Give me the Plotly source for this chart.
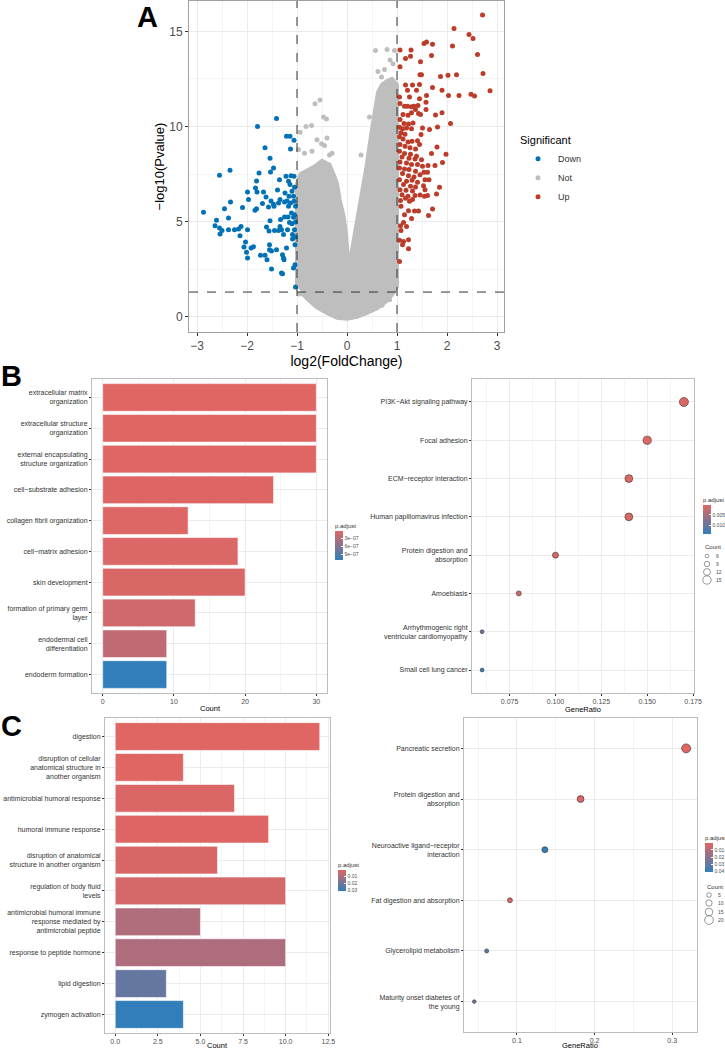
import math
import plotly.graph_objects as go

# -----------------------
# Panel A: volcano data
# -----------------------
down_x = [-2.87, -2.61, -2.64, -2.55, -2.54, -2.50, -2.55, -2.34, -2.45, -2.37, -2.33, -2.37, -2.25,
          -2.17, -2.14, -2.12, -2.09, -2.03, -2.06, -1.99, -1.99, -1.97, -2.01, -1.99, -1.92, -1.87,
          -1.83, -1.84, -1.81, -1.79, -1.81, -1.76, -1.80, -1.73, -1.69, -1.67, -1.64, -1.64, -1.62,
          -1.61, -1.60, -1.57, -1.56, -1.55, -1.55, -1.54, -1.54, -1.53, -1.52, -1.51, -1.51, -1.47,
          -1.47, -1.46, -1.45, -1.41, -1.41, -1.39, -1.37, -1.37, -1.35, -1.34, -1.34, -1.33, -1.31,
          -1.31, -1.29, -1.29, -1.27, -1.27, -1.26, -1.25, -1.25, -1.24, -1.22, -1.21, -1.21, -1.20,
          -1.19, -1.18, -1.17, -1.17, -1.16, -1.15, -1.14, -1.14, -1.13, -1.13, -1.12, -1.11, -1.10,
          -1.10, -1.09, -1.09, -1.07, -1.07, -1.07, -1.06, -1.06, -1.06, -1.05, -1.05, -1.05, -1.04,
          -1.04, -1.03, -1.03, -1.03, -1.03]
down_y = [5.49, 5.07, 4.79, 4.67, 4.35, 4.53, 7.44, 7.70, 5.68, 5.19, 6.04, 4.58, 4.58,
          4.61, 4.26, 4.75, 5.75, 3.93, 3.67, 4.58, 6.56, 6.16, 3.39, 3.09, 3.61, 3.68,
          6.77, 5.60, 5.68, 10.0, 7.14, 7.56, 6.56, 3.23, 5.96, 6.56, 3.23, 8.88, 6.30,
          4.72, 3.00, 5.77, 4.51, 3.79, 3.53, 8.33, 5.05, 7.61, 6.09, 2.51, 3.46, 7.82,
          5.91, 5.81, 4.53, 10.42, 3.53, 6.67, 5.98, 4.54, 7.21, 6.16, 4.75, 5.11, 4.58,
          2.30, 3.26, 2.26, 3.09, 4.32, 3.00, 5.25, 6.04, 6.51, 7.39, 9.49, 3.61, 6.09,
          4.58, 5.25, 7.12, 5.81, 6.33, 4.96, 9.49, 6.95, 8.82, 5.98, 7.42, 5.46, 6.60,
          4.89, 4.32, 4.09, 6.33, 5.23, 2.56, 9.28, 7.39, 6.07, 6.81, 5.37, 4.58, 3.79,
          2.74, 1.56, 5.81, 4.98, 4.19]

up_x = [2.71, 2.14, 2.44, 2.52, 2.61, 2.72, 2.86, 2.48, 2.55, 2.24, 2.03, 2.11, 1.59, 1.54, 1.71,
        1.69, 2.19, 2.02, 1.87, 1.90, 1.71, 2.07, 1.90, 1.77, 1.81, 1.80, 1.98, 1.91, 1.76, 1.69,
        1.85, 1.79, 1.71, 1.63, 1.65, 1.58, 1.58, 1.59, 1.46, 1.49, 1.47, 1.45, 1.31, 1.28, 1.27,
        1.17, 1.06, 1.06, 1.17, 1.21, 1.39, 1.25, 1.45, 1.05, 1.06, 1.15, 1.21, 1.29, 1.34, 1.42,
        1.37, 1.43, 1.47, 1.22, 1.29, 1.12, 1.06, 1.14, 1.23, 1.32, 1.05, 1.11, 1.19, 1.29, 1.51,
        1.48, 1.08, 1.16, 1.05, 1.12, 1.22, 1.30, 1.41, 1.45, 1.06, 1.16, 1.26, 1.37, 1.05, 1.15,
        1.27, 1.39, 1.10, 1.24, 1.36, 1.49, 1.06, 1.19, 1.29, 1.41, 1.62, 1.05, 1.15, 1.24, 1.37,
        1.51, 1.11, 1.23, 1.34, 1.46, 1.54, 1.61, 1.05, 1.19, 1.30, 1.41, 1.56, 1.64, 1.13, 1.27,
        1.37, 1.53, 1.06, 1.18, 1.31, 1.46, 1.56, 1.10, 1.22, 1.36, 1.61, 1.07, 1.17, 1.25, 1.31,
        1.55, 1.08, 1.23, 1.35, 1.43, 1.15, 1.29, 1.13, 1.07, 1.19, 1.08, 1.05, 1.13, 1.23, 1.11,
        1.23, 1.05]
up_y = [15.86, 15.16, 14.84, 14.63, 13.79, 12.79, 11.88, 11.70, 11.60, 11.63, 11.63, 14.23, 14.44,
        14.37, 14.33, 13.74, 12.72, 12.70, 12.63, 11.91, 12.05, 10.16, 10.72, 10.61, 9.98, 8.93,
        8.54, 8.11, 7.95, 8.58, 6.81, 6.46, 5.67, 5.32, 9.84, 10.89, 11.28, 11.63, 12.72, 12.72,
        13.40, 12.21, 12.19, 14.02, 13.70, 13.58, 14.02, 13.14, 12.19, 11.91, 11.91, 11.56, 11.46,
        11.56, 11.21, 11.07, 11.07, 11.04, 11.07, 11.11, 10.89, 10.68, 10.63, 10.60, 10.72, 10.63,
        10.37, 10.16, 10.14, 10.19, 9.96, 9.88, 9.93, 9.88, 9.93, 9.58, 9.67, 9.60, 9.46, 9.35,
        9.19, 9.23, 9.25, 9.05, 9.05, 8.96, 8.88, 8.82, 8.70, 8.58, 8.54, 8.44, 8.40, 8.33, 8.30,
        8.26, 8.14, 8.09, 8.00, 8.00, 7.95, 7.82, 7.77, 7.74, 7.65, 7.91, 7.53, 7.42, 7.35, 7.47,
        7.60, 7.60, 7.21, 7.12, 7.18, 7.07, 7.21, 7.21, 6.95, 6.86, 6.82, 6.89, 6.68, 6.65, 6.61,
        6.40, 6.68, 6.42, 6.33, 6.37, 6.37, 6.11, 6.23, 6.07, 6.16, 6.33, 5.81, 5.58, 5.56, 5.56,
        5.37, 5.16, 4.96, 4.79, 4.75, 4.53, 4.02, 3.96, 4.05, 3.79, 3.58, 2.91]

# outline of the dense grey cloud, and the loose grey points around it
cloud_x = [-1.0, -1.0, -0.93, -0.8, -0.65, -0.5, -0.35, -0.27, -0.2, -0.15, -0.07, -0.02, 0.03,
           0.1, 0.16, 0.26, 0.39, 0.49, 0.55, 0.62, 0.7, 0.8, 0.9, 1.0, 1.0, 0.9, 0.78, 0.6,
           0.4, 0.2, 0.0, -0.2, -0.4, -0.6, -0.78, -0.92]
cloud_y = [1.6, 7.0, 7.5, 7.7, 7.9, 8.2, 8.0, 7.5, 7.0, 6.2, 5.3, 4.4, 2.6,
           3.5, 4.4, 6.2, 7.9, 9.7, 10.8, 11.8, 12.2, 12.4, 12.5, 12.2, 1.6, 1.15, 0.8, 0.45,
           0.2, 0.0, -0.1, -0.05, 0.2, 0.5, 0.9, 1.3]
not_x = [-0.54, -0.64, -0.47, -0.41, -0.71, -0.82, -0.51, -0.45, -0.94, -0.97, -0.85, -0.70,
         -0.60, -0.35, -0.95, -0.67, -0.55, -0.30, -0.40, 0.57, 0.80, 0.86, 0.92, 0.95, 0.69,
         0.28, 0.85, 0.70, 0.45, 0.62, 0.75]
not_y = [11.4, 11.2, 10.5, 10.4, 10.05, 10.0, 9.1, 9.0, 9.7, 8.8, 8.6, 8.7,
         9.3, 8.5, 1.2, 0.75, 0.55, 8.6, 9.4, 14.0, 14.05, 13.5, 13.3, 14.0, 12.6,
         8.5, 0.9, 0.6, 10.5, 12.9, 13.0]

# -----------------------
# Panel B data
# -----------------------
b_go_terms = ["extracellular matrix<br>organization", "extracellular structure<br>organization",
              "external encapsulating<br>structure organization", "cell−substrate adhesion",
              "collagen fibril organization", "cell−matrix adhesion", "skin development",
              "formation of primary germ<br>layer", "endodermal cell<br>differentiation",
              "endoderm formation"]
b_go_count = [30, 30, 30, 24, 12, 19, 20, 13, 9, 9]
b_go_padj = [5e-9, 8e-9, 1.2e-8, 2.5e-8, 3e-8, 4e-8, 5e-8, 1.2e-7, 2.1e-7, 1.13e-6]

b_kegg_terms = ["PI3K−Akt signaling pathway", "Focal adhesion", "ECM−receptor interaction",
                "Human papillomavirus infection", "Protein digestion and<br>absorption", "Amoebiasis",
                "Arrhythmogenic right<br>ventricular cardiomyopathy", "Small cell lung cancer"]
b_kegg_ratio = [0.17, 0.15, 0.14, 0.14, 0.10, 0.08, 0.06, 0.06]
b_kegg_count = [17, 15, 14, 14, 10, 8, 6, 6]
b_kegg_padj = [0.0002, 0.0003, 0.0005, 0.0006, 0.0008, 0.0009, 0.0101, 0.0144]

# -----------------------
# Panel C data
# -----------------------
c_go_terms = ["digestion", "disruption of cellular<br>anatomical structure in<br>another organism",
              "antimicrobial humoral response", "humoral immune response",
              "disruption of anatomical<br>structure in another organism",
              "regulation of body fluid<br>levels",
              "antimicrobial humoral immune<br>response mediated by<br>antimicrobial peptide",
              "response to peptide hormone", "lipid digestion", "zymogen activation"]
c_go_count = [12, 4, 7, 9, 6, 10, 5, 10, 3, 4]
c_go_padj = [0.0005, 0.0006, 0.0016, 0.0010, 0.0020, 0.0025, 0.0090, 0.0095, 0.022, 0.031]

c_kegg_terms = ["Pancreatic secretion", "Protein digestion and<br>absorption",
                "Neuroactive ligand−receptor<br>interaction", "Fat digestion and absorption",
                "Glycerolipid metabolism", "Maturity onset diabetes of<br>the young"]
c_kegg_ratio = [0.318, 0.182, 0.136, 0.091, 0.061, 0.045]
c_kegg_count = [21, 12, 9, 6, 4, 3]
c_kegg_padj = [0.0004, 0.0008, 0.0405, 0.0015, 0.032, 0.028]

# -----------------------
# Styling
# -----------------------
W, H = 725, 1050
FONT = "Arial, Liberation Sans, sans-serif"
CS = [[0, "#327eba"], [1, "#e06663"]]   # blue = high p.adjust, red = low
GRID = "#EBEBEB"
BORDER = "#BDBDBD"


def dx(p0, p1):
    return [p0 / W, p1 / W]


def dy(p0, p1):
    return [1 - p1 / H, 1 - p0 / H]


def dot_size(c, cmin, cmax, dmin, dmax):
    return dmin + (math.sqrt(c) - math.sqrt(cmin)) / (math.sqrt(cmax) - math.sqrt(cmin)) * (dmax - dmin)


def colorbar(px, py, length, tickvals, ticktext):
    return dict(x=px / W, xanchor="left", y=1 - py / H, yanchor="middle",
                len=length, lenmode="pixels", thickness=8, outlinewidth=0,
                xpad=0, ypad=0, tickvals=[-v for v in tickvals], ticktext=ticktext,
                ticks="inside", ticklen=2, tickcolor="white",
                tickfont=dict(size=5, color="#4D4D4D", family=FONT),
                title=dict(text="p.adjust", side="top", font=dict(size=6, color="#333", family=FONT)))


fig = go.Figure()

# ---- A: volcano ----
fig.add_trace(go.Scatter(x=cloud_x, y=cloud_y, fill="toself", fillcolor="#BEBEBE", mode="lines",
                         line=dict(color="#BEBEBE", width=4), showlegend=False, hoverinfo="skip",
                         xaxis="x", yaxis="y"))
fig.add_trace(go.Scatter(x=down_x, y=down_y, mode="markers", name="Down", legendrank=1,
                         marker=dict(color="#0072B5", size=5, opacity=1), xaxis="x", yaxis="y"))
fig.add_trace(go.Scatter(x=not_x, y=not_y, mode="markers", name="Not", legendrank=2,
                         marker=dict(color="#BEBEBE", size=5, opacity=1), xaxis="x", yaxis="y"))
fig.add_trace(go.Scatter(x=up_x, y=up_y, mode="markers", name="Up", legendrank=3,
                         marker=dict(color="#BC3C29", size=5, opacity=1), xaxis="x", yaxis="y"))

for xv in (-1, 1):
    fig.add_shape(type="line", xref="x", yref="y domain", x0=xv, x1=xv, y0=0, y1=1,
                  line=dict(color="#333", width=1, dash="dash"))
fig.add_shape(type="line", xref="x domain", yref="y", x0=0, x1=1, y0=1.3, y1=1.3,
              line=dict(color="#333", width=1, dash="dash"))

# ---- B: GO bar ----
fig.add_trace(go.Bar(x=b_go_count, y=b_go_terms, orientation="h", width=0.9, showlegend=False,
                     marker=dict(color=[-p for p in b_go_padj], colorscale=CS,
                                 cmin=-max(b_go_padj), cmax=-min(b_go_padj),
                                 line=dict(color="white", width=0.6),
                                 colorbar=colorbar(335, 540, 40, [3e-7, 6e-7, 9e-7],
                                                   ["3e−07", "6e−07", "9e−07"])),
                     xaxis="x2", yaxis="y2"))

# ---- B: KEGG dots ----
fig.add_trace(go.Scatter(x=b_kegg_ratio, y=b_kegg_terms, mode="markers", showlegend=False,
                         marker=dict(size=[dot_size(c, 6, 17, 3.8, 9) for c in b_kegg_count],
                                     color=[-p for p in b_kegg_padj], colorscale=CS,
                                     cmin=-max(b_kegg_padj), cmax=-min(b_kegg_padj),
                                     line=dict(color="#333", width=0.6), opacity=1,
                                     colorbar=colorbar(703, 514, 40, [0.005, 0.010],
                                                       ["0.005", "0.010"])),
                         xaxis="x3", yaxis="y3"))

# ---- C: GO bar ----
fig.add_trace(go.Bar(x=c_go_count, y=c_go_terms, orientation="h", width=0.9, showlegend=False,
                     marker=dict(color=[-p for p in c_go_padj], colorscale=CS,
                                 cmin=-max(c_go_padj), cmax=-min(c_go_padj),
                                 line=dict(color="white", width=0.6),
                                 colorbar=colorbar(338, 875, 32, [0.01, 0.02, 0.03],
                                                   ["0.01", "0.02", "0.03"])),
                     xaxis="x4", yaxis="y4"))

# ---- C: KEGG dots ----
fig.add_trace(go.Scatter(x=c_kegg_ratio, y=c_kegg_terms, mode="markers", showlegend=False,
                         marker=dict(size=[dot_size(c, 3, 21, 3.6, 9) for c in c_kegg_count],
                                     color=[-p for p in c_kegg_padj], colorscale=CS,
                                     cmin=-max(c_kegg_padj), cmax=-min(c_kegg_padj),
                                     line=dict(color="#333", width=0.6), opacity=1,
                                     colorbar=colorbar(705, 852, 40, [0.01, 0.02, 0.03, 0.04],
                                                       ["0.01", "0.02", "0.03", "0.04"])),
                         xaxis="x5", yaxis="y5"))

# ---- Count size legends (drawn by hand, ggplot style) ----
annotations = []
size_legends = [
    (703, 547, [6, 9, 12, 15], [556, 564, 572, 580], (6, 17, 3.8, 9)),
    (705, 887, [5, 10, 15, 20], [895, 903, 912, 920], (3, 21, 3.6, 9)),
]
for tx, ty, vals, ys, rng in size_legends:
    annotations.append(dict(text="Count", x=tx / W, y=1 - ty / H, xref="paper", yref="paper",
                            xanchor="left", yanchor="middle", showarrow=False,
                            font=dict(size=6, color="#333", family=FONT)))
    for v, yy in zip(vals, ys):
        r = dot_size(v, *rng) / 2
        fig.add_shape(type="circle", xref="paper", yref="paper", xsizemode="pixel", ysizemode="pixel",
                      xanchor=(tx + 4) / W, yanchor=1 - yy / H, x0=-r, x1=r, y0=-r, y1=r,
                      line=dict(color="#555", width=0.6))
        annotations.append(dict(text=str(v), x=(tx + 11) / W, y=1 - yy / H, xref="paper", yref="paper",
                                xanchor="left", yanchor="middle", showarrow=False,
                                font=dict(size=5, color="#4D4D4D", family=FONT)))

# panel letters
for lab, px, py in (("A", 147, 17), ("B", 11, 376), ("C", 11, 726)):
    annotations.append(dict(text=f"<b>{lab}</b>", x=px / W, y=1 - py / H, xref="paper", yref="paper",
                            xanchor="center", yanchor="middle", showarrow=False,
                            font=dict(size=29, color="black", family=FONT)))

# x axis titles of the small panels
for lab, px, py in (("Count", 210, 708), ("GeneRatio", 583, 709),
                    ("Count", 217, 1045), ("GeneRatio", 580, 1045)):
    annotations.append(dict(text=lab, x=px / W, y=1 - py / H, xref="paper", yref="paper",
                            xanchor="center", yanchor="middle", showarrow=False,
                            font=dict(size=7.5, color="black", family=FONT)))


def num_axis(domain, rng, tickvals, title, ticktext=None, size=7, tsize=8, minor=None, line=BORDER):
    ax = dict(domain=domain, range=rng, tickvals=tickvals, showgrid=True, gridcolor=GRID,
              gridwidth=1, zeroline=False, showline=True, mirror=True, linecolor=line, linewidth=1,
              ticks="outside", ticklen=2, tickcolor="#333", automargin=False,
              tickfont=dict(size=size, color="#4D4D4D", family=FONT))
    if title:
        ax["title"] = dict(text=title, standoff=1, font=dict(size=tsize, color="black", family=FONT))
    if ticktext is not None:
        ax["ticktext"] = ticktext
    if minor is not None:
        ax["minor"] = dict(dtick=minor, showgrid=True, gridcolor="#F4F4F4", gridwidth=0.6, ticks="")
    return ax


def cat_axis(domain, terms, size=7):
    return dict(domain=domain, type="category", categoryorder="array", categoryarray=terms[::-1],
                range=[-0.6, len(terms) - 0.4], showgrid=True, gridcolor=GRID, zeroline=False,
                showline=True, mirror=True, linecolor=BORDER, linewidth=1, automargin=False,
                ticks="outside", ticklen=2, tickcolor="#333",
                tickfont=dict(size=size, color="#333", family=FONT))


xa = num_axis(dx(189, 504), [-3.16, 3.14], [-3, -2, -1, 0, 1, 2, 3], "log2(FoldChange)",
              size=12, tsize=14, minor=0.5, line="#A0A0A0")
ya = num_axis(dy(1, 332), [-0.8, 16.6], [0, 5, 10, 15], "−log10(Pvalue)",
              size=12, tsize=13, minor=2.5, line="#A0A0A0")
xa["ticklen"] = 3
ya["ticklen"] = 3
xa["anchor"] = "y"
ya["anchor"] = "x"

fig.update_layout(
    width=W, height=H, margin=dict(l=0, r=0, t=0, b=0, autoexpand=False),
    paper_bgcolor="white", plot_bgcolor="white", font=dict(family=FONT),
    bargap=0.1,
    xaxis=xa, yaxis=ya,
    xaxis2=dict(num_axis(dx(92, 327), [-1.5, 31.5], [0, 10, 20, 30], None, minor=5), anchor="y2"),
    yaxis2=dict(cat_axis(dy(379, 693), b_go_terms), anchor="x2"),
    xaxis3=dict(num_axis(dx(472, 694), [0.0545, 0.1755], [0.075, 0.1, 0.125, 0.15, 0.175], None,
                         ticktext=["0.075", "0.100", "0.125", "0.150", "0.175"], minor=0.0125), anchor="y3"),
    yaxis3=dict(cat_axis(dy(379, 693), b_kegg_terms), anchor="x3"),
    xaxis4=dict(num_axis(dx(105, 330), [-0.6, 12.6], [0, 2.5, 5, 7.5, 10, 12.5], None,
                         ticktext=["0.0", "2.5", "5.0", "7.5", "10.0", "12.5"], minor=1.25), anchor="y4"),
    yaxis4=dict(cat_axis(dy(718, 1033), c_go_terms), anchor="x4"),
    xaxis5=dict(num_axis(dx(464, 697), [0.0318, 0.332], [0.1, 0.2, 0.3], None, minor=0.05), anchor="y5"),
    yaxis5=dict(cat_axis(dy(718, 1032), c_kegg_terms), anchor="x5"),
    legend=dict(x=518 / W, y=1 - 130 / H, xanchor="left", yanchor="top", itemsizing="trace",
                title=dict(text="Significant", font=dict(size=11, color="black", family=FONT)),
                font=dict(size=9, color="#333", family=FONT), bgcolor="rgba(0,0,0,0)", tracegroupgap=0),
    annotations=annotations,
)

# drop the browser's default page margin so the figure sits at the window's corner
fig.write_html("out.html", config={"displayModeBar": False},
               post_script="document.body.style.margin='0';")
